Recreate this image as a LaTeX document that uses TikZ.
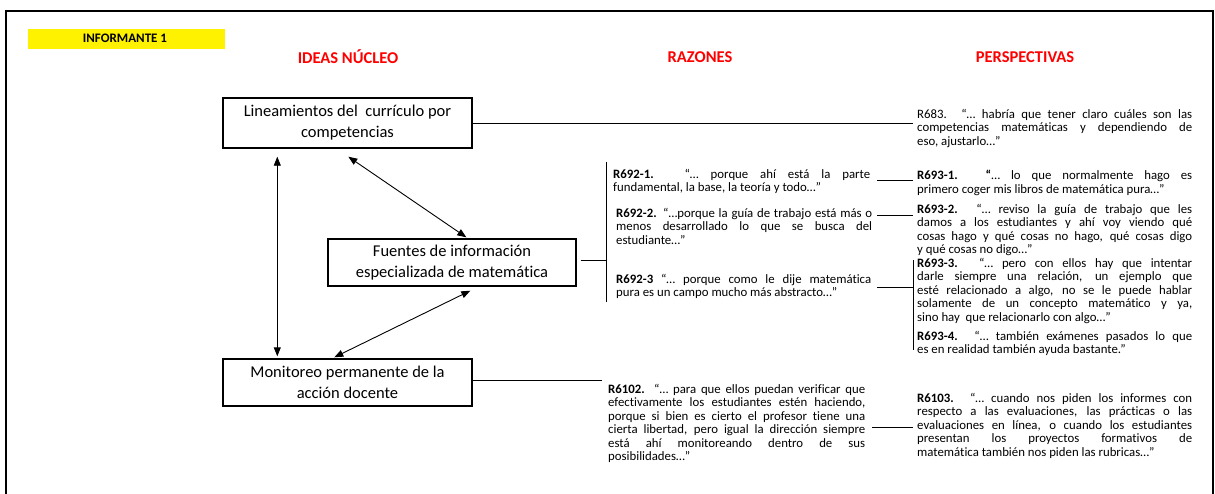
\documentclass[tikz,border=0pt]{standalone}
\usepackage{fontspec}
\setmainfont{Carlito}[Ligatures=NoCommon]
\usetikzlibrary{arrows.meta,calc}
\begin{document}
\begin{tikzpicture}[x=1pt,y=-1pt,
  ideabox/.style={draw,line width=1.4pt,inner sep=0pt,align=center,
    font=\fontsize{16.5}{21}\selectfont},
  quotebox/.style={anchor=north west,inner sep=0pt,align=justify,
    font=\fontsize{12.8}{13.4}\selectfont},
  header/.style={font=\fontsize{16.5}{19}\selectfont\bfseries,text=red,inner sep=0pt},
  conn/.style={line width=0.8pt},
  biarrow/.style={{Triangle[length=9pt,width=7pt]}-{Triangle[length=9pt,width=7pt]},line width=0.9pt}]
\useasboundingbox (0,0) rectangle (1215,493);
\clip (0,0) rectangle (1215,493);
\fill[white] (0,0) rectangle (1215,493);
\draw[line width=2pt] (6,11) rectangle (1213,520);
% label and headers
\node[fill=yellow,minimum width=197pt,minimum height=20pt,inner sep=0pt] (inf) at (126.5,39) {};
\node[font=\fontsize{13}{15}\selectfont\bfseries,inner sep=0pt] (inft) at (125,38) {INFORMANTE 1};
\node[header] (h1) at (348,57) {IDEAS NÚCLEO};
\node[header] (h2) at (700,57) {RAZONES};
\node[header] (h3) at (1025,57) {PERSPECTIVAS};
% idea boxes
\node[ideabox,minimum width=249pt,minimum height=50pt] (lin) at (347.5,123)
  {Lineamientos del~ currículo por\\competencias};
\node[ideabox,minimum width=248pt,minimum height=47pt] (fue) at (452,262.5)
  {Fuentes de información\\especializada de matemática};
\node[ideabox,minimum width=249pt,minimum height=47pt] (mon) at (347.5,382.5)
  {Monitoreo permanente de la\\acción docente};
% arrows
\draw[biarrow] ($(lin.south west)+(55,8)$) -- ($(mon.north west)+(55,-2)$);
\draw[biarrow] ($(lin.south west)+(126,8)$) -- ($(fue.north west)+(139,-1)$);
\draw[biarrow] ($(fue.south west)+(143,4)$) -- ($(mon.north west)+(112,-1)$);
% razones
\node[quotebox,text width=257pt] (r6921) at (613,169)
  {\textbf{R692-1.} “… porque ahí está la parte\linebreak fundamental, la base, la teoría y todo…”};
\node[quotebox,text width=256pt] (r6922) at (616,208)
  {\textbf{R692-2.} “…porque la guía de trabajo está más o\linebreak menos desarrollado lo que se busca del\linebreak estudiante…”};
\node[quotebox,text width=255pt] (r6923) at (616,274)
  {\textbf{R692-3} “… porque como le dije matemática\linebreak pura es un campo mucho más abstracto…”};
\node[quotebox,text width=257pt] (r6102) at (608,384)
  {\textbf{R6102.} “… para que ellos puedan verificar que\linebreak efectivamente los estudiantes estén haciendo,\linebreak porque si bien es cierto el profesor tiene una\linebreak cierta libertad, pero igual la dirección siempre\linebreak está ahí monitoreando dentro de sus\linebreak posibilidades…”};
% perspectivas
\node[quotebox,text width=275pt] (r683) at (917,109)
  {R683. “… habría que tener claro cuáles son las\linebreak competencias matemáticas y dependiendo de\linebreak eso, ajustarlo…”};
\node[quotebox,text width=275pt] (r6931) at (917,170)
  {\textbf{R693-1. “}… lo que normalmente hago es\linebreak primero coger mis libros de matemática pura…”};
\node[quotebox,text width=275pt] (r6932) at (917,204)
  {\textbf{R693-2.} “… reviso la guía de trabajo que les\linebreak damos a los estudiantes y ahí voy viendo qué\linebreak cosas hago y qué cosas no hago, qué cosas digo\linebreak y qué cosas no digo…”};
\node[quotebox,text width=275pt] (r6933) at (917,258)
  {\textbf{R693-3.} “… pero con ellos hay que intentar\linebreak darle siempre una relación, un ejemplo que\linebreak esté relacionado a algo, no se le puede hablar\linebreak solamente de un concepto matemático y ya,\linebreak sino hay~ que relacionarlo con algo…”};
\node[quotebox,text width=275pt] (r6934) at (917,331)
  {\textbf{R693-4.} “… también exámenes pasados lo que\linebreak es en realidad también ayuda bastante.”};
\node[quotebox,text width=275pt] (r6103) at (917,393)
  {\textbf{R6103.} “… cuando nos piden los informes con\linebreak respecto a las evaluaciones, las prácticas o las\linebreak evaluaciones en línea, o cuando los estudiantes\linebreak presentan los proyectos formativos de\linebreak matemática también nos piden las rubricas…”};
% connector coordinates
\coordinate (c683) at (913,123);
\coordinate (bt) at (606,162);
\coordinate (bb) at (606,302);
\coordinate (bm) at (606,260);
\coordinate (a1) at (877,180); \coordinate (b1) at (913,180);
\coordinate (a2) at (877,215); \coordinate (b2) at (913,215);
\coordinate (a3) at (877,287); \coordinate (b3) at (913,287);
\coordinate (ct) at (913,260); \coordinate (cb) at (913,350);
\coordinate (c6102) at (602,380);
\coordinate (a4) at (872,427); \coordinate (b4) at (913,427);
% connectors
\draw[conn] (lin.east) -- (c683);
\draw[conn] ($(fue.east)+(4,-2.5)$) -- (bm);
\draw[conn] (bt) -- (bb);
\draw[conn] (a1) -- (b1);
\draw[conn] (a2) -- (b2);
\draw[conn] (a3) -- (b3);
\draw[conn] (ct) -- (cb);
\draw[conn] ($(mon.east)+(0,-2.5)$) -- (c6102);
\draw[conn] (a4) -- (b4);
\end{tikzpicture}
\end{document}
